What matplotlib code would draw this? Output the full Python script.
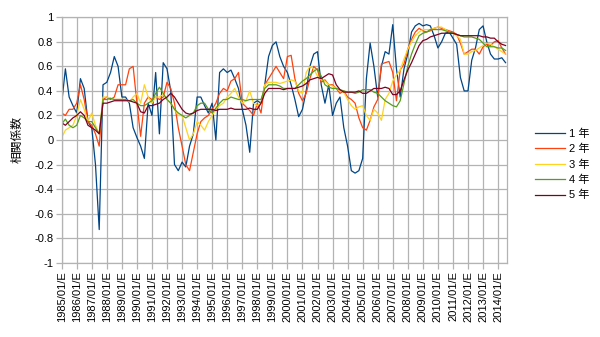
import pandas as pd
import matplotlib
matplotlib.use('Agg')
import matplotlib.pyplot as plt

plt.rcParams['font.family'] = ['Liberation Sans', 'Noto Sans CJK JP']

# quarterly samples, 1985/01 .. 2014/07
dates = pd.date_range('1985-01-01', '2014-07-01', freq='QS')

one_yr = [
    0.30, 0.58, 0.35, 0.28,  0.22, 0.50, 0.42, 0.15,  0.10, -0.20, -0.73, 0.45,
    0.47, 0.55, 0.68, 0.60,  0.35, 0.35, 0.30, 0.10,  0.02, -0.05, -0.15, 0.30,
    0.20, 0.55, 0.05, 0.63,  0.58, 0.40, -0.20, -0.25, -0.18, -0.22, -0.05, 0.05,
    0.35, 0.35, 0.28, 0.22,  0.30, 0.00, 0.55, 0.58,  0.55, 0.57, 0.50, 0.42,
    0.25, 0.12, -0.10, 0.30, 0.32, 0.30, 0.45, 0.68,  0.77, 0.80, 0.68, 0.60,
    0.55, 0.45, 0.33, 0.19,  0.25, 0.40, 0.60, 0.70,  0.72, 0.45, 0.30, 0.45,
    0.20, 0.30, 0.35, 0.10,  -0.05, -0.25, -0.27, -0.25, -0.15, 0.50, 0.79, 0.60,
    0.35, 0.60, 0.72, 0.70,  0.94, 0.58, 0.35, 0.58,  0.70, 0.88, 0.93, 0.95,
    0.93, 0.94, 0.93, 0.85,  0.75, 0.80, 0.87, 0.88,  0.83, 0.78, 0.51, 0.40,
    0.40, 0.65, 0.75, 0.90,  0.93, 0.80, 0.70, 0.66,  0.66, 0.67, 0.63,
]
two_yr = [
    0.22, 0.20, 0.25, 0.25,  0.30, 0.45, 0.33, 0.15,  0.12, 0.05, -0.05, 0.33,
    0.35, 0.33, 0.35, 0.45,  0.45, 0.45, 0.58, 0.60,  0.30, 0.03, 0.30, 0.35,
    0.33, 0.35, 0.33, 0.35,  0.47, 0.42, 0.30, 0.10,  -0.05, -0.20, -0.25, -0.10,
    0.05, 0.15, 0.18, 0.20,  0.25, 0.30, 0.38, 0.42,  0.40, 0.48, 0.50, 0.55,
    0.30, 0.27, 0.24, 0.20,  0.30, 0.22, 0.45, 0.50,  0.55, 0.60, 0.55, 0.50,
    0.68, 0.69, 0.50, 0.38,  0.32, 0.38, 0.50, 0.60,  0.57, 0.47, 0.49, 0.45,
    0.45, 0.42, 0.38, 0.40,  0.35, 0.33, 0.30, 0.18,  0.10, 0.08, 0.16, 0.27,
    0.33, 0.62, 0.63, 0.64,  0.55, 0.32, 0.57, 0.62,  0.74, 0.82, 0.88, 0.91,
    0.89, 0.88, 0.89, 0.91,  0.92, 0.91, 0.90, 0.89,  0.88, 0.86, 0.79, 0.70,
    0.72, 0.74, 0.74, 0.70,  0.76, 0.78, 0.77, 0.80,  0.81, 0.75, 0.70,
]
three_yr = [
    0.02, 0.08, 0.10, 0.12,  0.20, 0.33, 0.25, 0.15,  0.22, 0.12, 0.05, 0.35,
    0.35, 0.34, 0.33, 0.33,  0.33, 0.33, 0.31, 0.35,  0.38, 0.30, 0.45, 0.35,
    0.30, 0.35, 0.35, 0.37,  0.33, 0.30, 0.25, 0.20,  0.20, 0.10, 0.00, 0.05,
    0.15, 0.12, 0.08, 0.15,  0.20, 0.25, 0.28, 0.30,  0.35, 0.38, 0.42, 0.35,
    0.30, 0.32, 0.40, 0.30,  0.28, 0.30, 0.45, 0.47,  0.47, 0.47, 0.46, 0.47,
    0.48, 0.49, 0.48, 0.40,  0.38, 0.55, 0.60, 0.58,  0.52, 0.49, 0.48, 0.45,
    0.44, 0.42, 0.40, 0.39,  0.33, 0.28, 0.25, 0.27,  0.28, 0.20, 0.16, 0.25,
    0.22, 0.16, 0.33, 0.38,  0.48, 0.53, 0.57, 0.66,  0.74, 0.80, 0.85, 0.88,
    0.90, 0.90, 0.90, 0.91,  0.92, 0.92, 0.90, 0.88,  0.87, 0.85, 0.82, 0.70,
    0.70, 0.72, 0.73, 0.75,  0.77, 0.79, 0.78, 0.76,  0.74, 0.72, 0.70,
]
four_yr = [
    0.13, 0.17, 0.12, 0.10,  0.12, 0.20, 0.18, 0.15,  0.15, 0.10, 0.05, 0.33,
    0.33, 0.34, 0.33, 0.33,  0.33, 0.33, 0.32, 0.33,  0.30, 0.28, 0.28, 0.30,
    0.32, 0.38, 0.43, 0.38,  0.33, 0.30, 0.25, 0.22,  0.20, 0.18, 0.20, 0.22,
    0.28, 0.30, 0.30, 0.25,  0.22, 0.26, 0.30, 0.33,  0.33, 0.35, 0.34, 0.33,
    0.33, 0.32, 0.33, 0.33,  0.33, 0.33, 0.42, 0.45,  0.45, 0.45, 0.44, 0.42,
    0.42, 0.42, 0.42, 0.45,  0.48, 0.50, 0.53, 0.56,  0.58, 0.52, 0.45, 0.43,
    0.42, 0.42, 0.41, 0.40,  0.39, 0.39, 0.38, 0.39,  0.41, 0.41, 0.41, 0.39,
    0.38, 0.35, 0.32, 0.30,  0.28, 0.27, 0.32, 0.46,  0.60, 0.70, 0.78, 0.85,
    0.87, 0.88, 0.90, 0.90,  0.90, 0.90, 0.89, 0.88,  0.87, 0.86, 0.85, 0.84,
    0.84, 0.84, 0.83, 0.82,  0.79, 0.76, 0.76, 0.76,  0.75, 0.75, 0.73,
]
five_yr = [
    0.14, 0.12, 0.15, 0.18,  0.20, 0.23, 0.20, 0.12,  0.10, 0.08, 0.05, 0.30,
    0.30, 0.31, 0.32, 0.32,  0.32, 0.32, 0.32, 0.31,  0.30, 0.23, 0.22, 0.28,
    0.28, 0.29, 0.30, 0.33,  0.35, 0.38, 0.35, 0.30,  0.25, 0.22, 0.21, 0.22,
    0.24, 0.25, 0.25, 0.25,  0.25, 0.24, 0.25, 0.25,  0.25, 0.26, 0.25, 0.25,
    0.25, 0.25, 0.26, 0.25,  0.25, 0.30, 0.38, 0.42,  0.42, 0.42, 0.42, 0.41,
    0.42, 0.42, 0.42, 0.43,  0.44, 0.46, 0.49, 0.50,  0.51, 0.50, 0.52, 0.54,
    0.53, 0.45, 0.41, 0.39,  0.39, 0.39, 0.39, 0.40,  0.38, 0.38, 0.40, 0.42,
    0.42, 0.42, 0.43, 0.42,  0.37, 0.37, 0.40, 0.49,  0.57, 0.63, 0.70, 0.77,
    0.81, 0.82, 0.84, 0.85,  0.86, 0.87, 0.87, 0.87,  0.87, 0.86, 0.85, 0.85,
    0.85, 0.85, 0.85, 0.85,  0.84, 0.84, 0.83, 0.83,  0.80, 0.78, 0.77,
]

labels = ['1 年', '2 年', '3 年', '4 年', '5 年']
colors = ['#004586', '#ff420e', '#ffd320', '#579d1c', '#7e0021']
series = [one_yr, two_yr, three_yr, four_yr, five_yr]

fig = plt.figure(figsize=(6, 3.37), dpi=100)
ax = fig.add_axes([0.1028, 0.2205, 0.7422, 0.7282])

for vals, lab, col in zip(series, labels, colors):
    ax.plot(dates, vals, color=col, lw=0.9, label=lab)

grid_col = '#b3b3b3'
year_ticks = pd.date_range('1985-01-01', '2014-01-01', freq='YS')
ax.set_xticks(year_ticks)
ax.set_xticklabels([d.strftime('%Y/%m/E') for d in year_ticks], rotation=90, fontsize=8)
ax.set_xlim(pd.Timestamp('1985-01-01'), pd.Timestamp('2014-08-05'))

ax.set_ylim(-1, 1)
ax.set_yticks([i / 10 for i in range(-10, 11, 2)])
ax.set_yticklabels(['-1', '-0.8', '-0.6', '-0.4', '-0.2', '0', '0.2', '0.4', '0.6', '0.8', '1'], fontsize=8)

ax.grid(True, color=grid_col, lw=0.9)
ax.set_axisbelow(True)
for sp in ax.spines.values():
    sp.set_color(grid_col)
    sp.set_linewidth(0.9)
ax.tick_params(direction='out', length=4, width=0.9, color=grid_col, pad=2)

ax.set_ylabel('相関係数', fontsize=8.5, labelpad=8)

fig.legend(loc='center left', bbox_to_anchor=(0.883, 0.512), frameon=False,
           borderpad=0, handlelength=2.7, handletextpad=0.3, labelspacing=0.45,
           fontsize=8)

fig.savefig('out.png', dpi=100)
